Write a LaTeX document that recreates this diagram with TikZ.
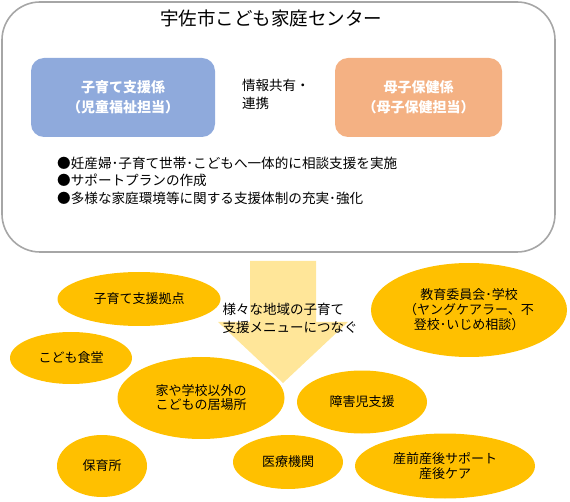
\documentclass[tikz,border=0pt]{standalone}
\usepackage{fontspec}
\setmainfont{Noto Sans CJK JP}
\usetikzlibrary{shapes.geometric}
\definecolor{bluebox}{HTML}{8FAADC}
\definecolor{orangebox}{HTML}{F4B183}
\definecolor{ellfill}{HTML}{FFC000}
\definecolor{arrowfill}{HTML}{FFE699}
\definecolor{frame}{HTML}{A6A6A6}
\begin{document}
\begin{tikzpicture}[x=1pt,y=-1pt,
  sect/.style={rounded corners=13pt, inner sep=0pt, text=white, align=center,
    font=\fontsize{14}{20}\selectfont\bfseries},
  bub/.style={ellipse, fill=ellfill, inner sep=0pt, align=center,
    font=\fontsize{13}{15}\selectfont},
  plain/.style={inner sep=0pt, font=\fontsize{13.5}{18}\selectfont}]
\useasboundingbox (0,0) rectangle (570,502);
% outer frame
\draw[frame, line width=1.6pt, rounded corners=38pt] (2,2) rectangle (555,252);
\node[inner sep=0pt, font=\fontsize{18.5}{20}\selectfont] (title) at (271,18) {宇佐市こども家庭センター};
% sections
\node[sect, fill=bluebox, minimum width=184pt, minimum height=79pt] (child) at (123,97.5)
  {子育て支援係\\（児童福祉担当）};
\node[sect, fill=orangebox, minimum width=167pt, minimum height=79pt] (mother) at (418.5,97.5)
  {母子保健係\\（母子保健担当）};
\node[plain, anchor=west, align=left] (share) at (242,94) {情報共有・\\連携};
\node[plain, anchor=west, align=left, font=\fontsize{13.6}{17.5}\selectfont] (bullets) at (57,180.5)
  {●妊産婦･子育て世帯･こどもへ一体的に相談支援を実施\\●サポートプランの作成\\●多様な家庭環境等に関する支援体制の充実･強化};
% big arrow
\fill[arrowfill] (250,261) -- (316,261) -- (316,322) -- (348,322) -- (283,383)
  -- (218,322) -- (250,322) -- cycle;
% bubbles
\node[bub, minimum width=163pt, minimum height=54pt] (kyoten) at (139,299) {子育て支援拠点};
\node[bub, minimum width=196pt, minimum height=94pt] (kyoiku) at (469,310)
  {教育委員会･学校\\（ヤングケアラー、不\\登校･いじめ相談）};
\node[bub, minimum width=122pt, minimum height=52pt] (shokudo) at (71,358) {こども食堂};
\node[bub, minimum width=167pt, minimum height=82pt, font=\fontsize{13}{14}\selectfont] (ibasho) at (201,398)
  {家や学校以外の\\こどもの居場所};
\node[bub, minimum width=130pt, minimum height=63pt] (shogai) at (362,402) {障害児支援};
\node[bub, minimum width=90pt, minimum height=62pt] (hoiku) at (102,466) {保育所};
\node[bub, minimum width=110pt, minimum height=54pt] (iryo) at (288,462) {医療機関};
\node[bub, minimum width=180pt, minimum height=65pt] (sanzen) at (445,466)
  {産前産後サポート\\産後ケア};
% arrow text
\node[plain, align=left] (menu) at (290,318) {様々な地域の子育て\\支援メニューにつなぐ};
\end{tikzpicture}
\end{document}
